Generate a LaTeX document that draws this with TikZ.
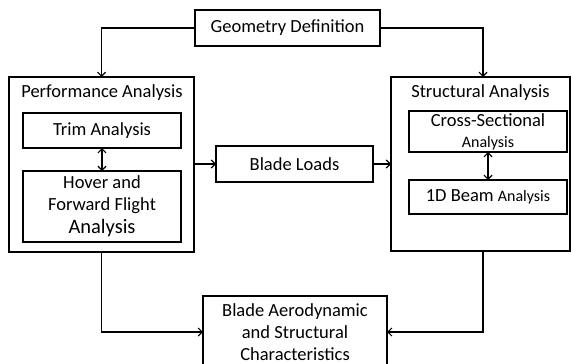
\documentclass[tikz,border=0pt]{standalone}
\usepackage{fontspec}
\setmainfont{Carlito}
\usetikzlibrary{arrows.meta}
\begin{document}
\begin{tikzpicture}[x=1pt, y=-1pt, line width=1.2pt,
    every node/.style={font=\fontsize{18.5}{22}\selectfont, align=center, inner sep=0pt, outer sep=0pt},
    blk/.style={draw, minimum width=#1},
    arr/.style={-{Straight Barb[length=4pt,width=8pt]}},
    dbl/.style={{Straight Barb[length=4pt,width=8pt]}-{Straight Barb[length=4pt,width=8pt]}}]
    \clip (0,0) rectangle (571,364);
    \node[blk=185, minimum height=36] (geo) at (287.5,28) {Geometry Definition};
    \node[blk=185, minimum height=175] (perf) at (101.5,164.5) {};
    \node (perftitle) at (102,93) {Performance Analysis};
    \node[blk=158, minimum height=35] (trim) at (102,130.5) {Trim Analysis};
    \node[blk=158, minimum height=71] (hover) at (102,206.5) {Hover and\\Forward Flight\\[1pt]{\fontsize{20.5}{22}\selectfont Analysis}};
    \node[blk=157, minimum height=36] (loads) at (294.5,164) {Blade Loads};
    \node[blk=179, minimum height=174] (struct) at (480.5,164) {};
    \node (structtitle) at (480.5,93) {Structural Analysis};
    \node[blk=158, minimum height=41] (cross) at (488,131.5) {Cross-Sectional\\[-1pt]{\fontsize{16}{18}\selectfont Analysis}};
    \node[blk=158, minimum height=34] (beam) at (488,197) {1D Beam {\fontsize{16}{18}\selectfont Analysis}};
    \node[blk=184, minimum height=72] (char) at (295,332) {Blade Aerodynamic\\and Structural\\Characteristics};
    % connectors
    \draw[arr] (geo.west) -| (perf.north);
    \draw[arr] (geo.east) -| ([xshift=2.5pt]struct.north);
    \draw[dbl] (trim) -- (hover);
    \draw[dbl] (cross) -- (beam);
    \draw[arr] (perf.east |- loads) -- (loads.west);
    \draw[arr] (loads.east) -- (struct.west |- loads);
    \draw[arr] (perf.south) |- (char.west);
    \draw[arr] ([xshift=2.5pt]struct.south) |- (char.east);
\end{tikzpicture}
\end{document}
